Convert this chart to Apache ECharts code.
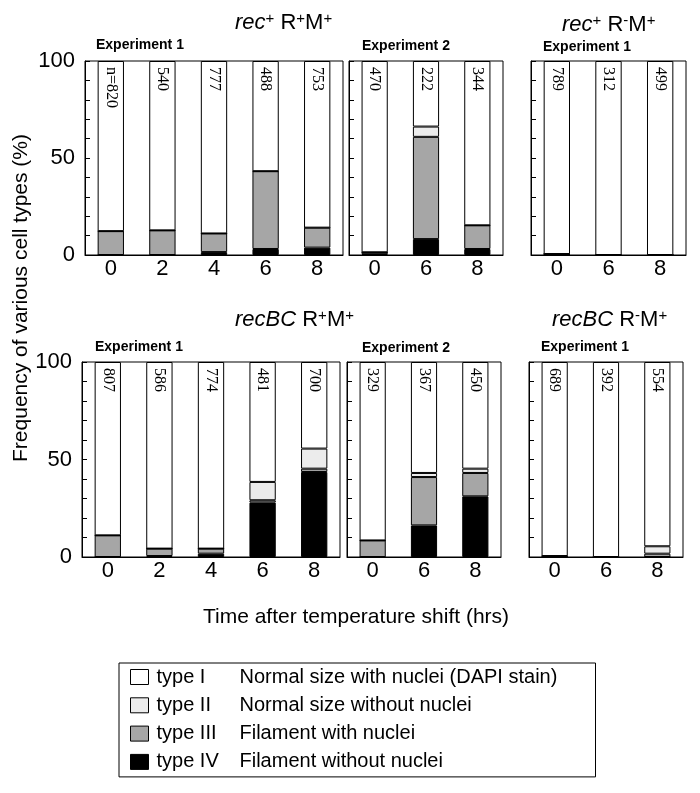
<!DOCTYPE html>
<html><head><meta charset="utf-8">
<script src="https://cdn.jsdelivr.net/npm/echarts@6/dist/echarts.min.js"></script>
<style>html,body{margin:0;padding:0;background:#fff}#c{width:700px;height:793px}</style>
</head><body><div id="c"></div>
<script>
// ---------- DATA ----------
const hoursLong = ['0', '2', '4', '6', '8'];
const hoursShort = ['0', '6', '8'];
const typeNames = ['type I', 'type II', 'type III', 'type IV'];
const typeDescriptions = ['Normal size with nuclei (DAPI stain)', 'Normal size without nuclei', 'Filament with nuclei', 'Filament without nuclei'];

// rec+ R+M+ Experiment 1
const recRM_exp1_typeIV  = [0, 0, 1.5, 3.1, 3.8];
const recRM_exp1_typeIII = [12.3, 12.7, 9.6, 40.1, 10.3];
const recRM_exp1_typeII  = [0, 0, 0, 0, 0];
const recRM_exp1_typeI   = [87.7, 87.3, 88.9, 56.8, 85.9];
const recRM_exp1_n       = [820, 540, 777, 488, 753];
// rec+ R+M+ Experiment 2
const recRM_exp2_typeIV  = [0.4, 8.2, 3.1];
const recRM_exp2_typeIII = [1.0, 52.7, 12.2];
const recRM_exp2_typeII  = [0, 5.3, 0];
const recRM_exp2_typeI   = [98.6, 33.8, 84.7];
const recRM_exp2_n       = [470, 222, 344];
// rec+ R-M+ Experiment 1
const recRminus_typeIV  = [0.5, 0, 0];
const recRminus_typeIII = [0, 0, 0];
const recRminus_typeII  = [0, 0, 0];
const recRminus_typeI   = [99.5, 100, 100];
const recRminus_n       = [789, 312, 499];
// recBC R+M+ Experiment 1
const bcRM_exp1_typeIV  = [0, 0.5, 1.7, 27.9, 43.6];
const bcRM_exp1_typeIII = [11.1, 3.8, 2.6, 1.2, 1.7];
const bcRM_exp1_typeII  = [0, 0, 0, 9.4, 10.3];
const bcRM_exp1_typeI   = [88.9, 95.7, 95.7, 61.5, 44.4];
const bcRM_exp1_n       = [807, 586, 774, 481, 700];
// recBC R+M+ Experiment 2
const bcRM_exp2_typeIV  = [0, 16.2, 31.1];
const bcRM_exp2_typeIII = [8.5, 24.8, 12.0];
const bcRM_exp2_typeII  = [0, 2.1, 2.2];
const bcRM_exp2_typeI   = [91.5, 56.9, 54.7];
const bcRM_exp2_n       = [329, 367, 450];
// recBC R-M+ Experiment 1
const bcRminus_typeIV  = [0, 0, 0];
const bcRminus_typeIII = [0.5, 0, 1.7];
const bcRminus_typeII  = [0, 0, 3.8];
const bcRminus_typeI   = [99.5, 100, 94.5];
const bcRminus_n       = [689, 392, 554];

const yTickLabels = [0, 50, 100];

// ---------- LAYOUT ----------
const FONT = '"Liberation Sans", Arial, Helvetica, sans-serif';
const SERIF = '"Liberation Serif", "Times New Roman", serif';
const typeColors = {'type I': '#ffffff', 'type II': '#ececec', 'type III': '#a6a6a6', 'type IV': '#000000'};

const panels = [
  {cats: hoursLong,  I: recRM_exp1_typeI, II: recRM_exp1_typeII, III: recRM_exp1_typeIII, IV: recRM_exp1_typeIV, n: recRM_exp1_n, prefix: true,  yLabels: true,  grid: {left: 85,  top: 61, width: 258, height: 194}},
  {cats: hoursShort, I: recRM_exp2_typeI, II: recRM_exp2_typeII, III: recRM_exp2_typeIII, IV: recRM_exp2_typeIV, n: recRM_exp2_n, prefix: false, yLabels: false, grid: {left: 349, top: 61, width: 154, height: 194}},
  {cats: hoursShort, I: recRminus_typeI, II: recRminus_typeII, III: recRminus_typeIII, IV: recRminus_typeIV, n: recRminus_n, prefix: false, yLabels: false, grid: {left: 531, top: 61, width: 155, height: 194}},
  {cats: hoursLong,  I: bcRM_exp1_typeI, II: bcRM_exp1_typeII, III: bcRM_exp1_typeIII, IV: bcRM_exp1_typeIV, n: bcRM_exp1_n, prefix: false, yLabels: true,  grid: {left: 82,  top: 362, width: 258, height: 195}},
  {cats: hoursShort, I: bcRM_exp2_typeI, II: bcRM_exp2_typeII, III: bcRM_exp2_typeIII, IV: bcRM_exp2_typeIV, n: bcRM_exp2_n, prefix: false, yLabels: false, grid: {left: 347, top: 362, width: 154, height: 195}},
  {cats: hoursShort, I: bcRminus_typeI, II: bcRminus_typeII, III: bcRminus_typeIII, IV: bcRminus_typeIV, n: bcRminus_n, prefix: false, yLabels: false, grid: {left: 529, top: 362, width: 154, height: 195}}
];

const grid = [], xAxis = [], yAxis = [], series = [];
panels.forEach((p, i) => {
  grid.push(Object.assign({show: true, borderColor: '#000', borderWidth: 1, backgroundColor: 'transparent'}, p.grid));
  xAxis.push({
    type: 'category', gridIndex: i, data: p.cats,
    axisLine: {lineStyle: {color: '#000', width: 1}},
    axisTick: {inside: true, length: 5, interval: 0, lineStyle: {color: '#000'}},
    axisLabel: {color: '#000', fontSize: 22, fontFamily: FONT, margin: 3, interval: 0},
    splitLine: {show: false}
  });
  yAxis.push({
    type: 'value', gridIndex: i, min: 0, max: 100, interval: 10,
    axisLine: {show: true, lineStyle: {color: '#000'}},
    axisTick: {show: true, inside: true, length: 5, lineStyle: {color: '#000'}},
    axisLabel: {show: p.yLabels, color: '#000', fontSize: 22, fontFamily: FONT, margin: 10,
      formatter: v => yTickLabels.indexOf(v) >= 0 ? String(v) : ''},
    splitLine: {show: false}
  });
  const layers = [['type IV', p.IV], ['type III', p.III], ['type II', p.II], ['type I', p.I]];
  layers.forEach(([name, data]) => {
    const s = {
      type: 'bar', name, xAxisIndex: i, yAxisIndex: i, stack: 'panel' + i, data,
      barWidth: '51%',
      itemStyle: {color: typeColors[name], borderColor: '#000', borderWidth: 1},
      emphasis: {disabled: true}, silent: true
    };
    if (name === 'type I') {
      s.label = {
        show: true, position: 'insideTop', distance: 6, rotate: -90,
        align: 'left', verticalAlign: 'middle',
        fontFamily: SERIF, fontSize: 16, color: '#000',
        formatter: prm => (p.prefix && prm.dataIndex === 0 ? 'n=' : '') + p.n[prm.dataIndex]
      };
    }
    series.push(s);
  });
});

const titleRich = {
  it: {fontStyle: 'italic', fontSize: 22, fontFamily: FONT, color: '#000', lineHeight: 24},
  r: {fontSize: 22, fontFamily: FONT, color: '#000', lineHeight: 24},
  sup: {fontSize: 15, fontFamily: FONT, color: '#000', verticalAlign: 'top', lineHeight: 15}
};
function titleText(left, top, text) {
  return {type: 'text', left, top, style: {text, rich: titleRich}};
}
function expText(left, top, text) {
  return {type: 'text', left, top, style: {text, fontSize: 14, fontWeight: 'bold', fontFamily: FONT, fill: '#000'}};
}

const graphic = [
  titleText(235, 11, '{it|rec}{sup|+}{r| R}{sup|+}{r|M}{sup|+}'),
  titleText(562, 13, '{it|rec}{sup|+}{r| R}{sup|-}{r|M}{sup|+}'),
  titleText(235, 308, '{it|recBC}{r| R}{sup|+}{r|M}{sup|+}'),
  titleText(552, 308, '{it|recBC}{r| R}{sup|-}{r|M}{sup|+}'),
  expText(96, 38, 'Experiment 1'),
  expText(362, 39, 'Experiment 2'),
  expText(543, 40, 'Experiment 1'),
  expText(95, 340, 'Experiment 1'),
  expText(362, 341, 'Experiment 2'),
  expText(541, 340, 'Experiment 1'),
  {type: 'text', x: 21, y: 298, rotation: Math.PI / 2,
    style: {text: 'Frequency of various cell types (%)', fontSize: 21, fontFamily: FONT, fill: '#000', align: 'center', verticalAlign: 'middle'}},
  {type: 'text', x: 356, y: 617,
    style: {text: 'Time after temperature shift (hrs)', fontSize: 21, fontFamily: FONT, fill: '#000', align: 'center', verticalAlign: 'middle'}}
];

const chart = echarts.init(document.getElementById('c'), null, {renderer: 'canvas'});
chart.setOption({
  animation: false,
  backgroundColor: '#fff',
  grid, xAxis, yAxis, series, graphic,
  legend: {
    data: typeNames,
    orient: 'vertical', left: 119, top: 663,
    padding: [4, 12, 5, 11],
    borderColor: '#000', borderWidth: 1,
    itemWidth: 18, itemHeight: 15, itemGap: 8.3,
    icon: 'rect', selectedMode: false,
    itemStyle: {borderColor: '#000', borderWidth: 1},
    formatter: name => '{a|' + name + '}{b|' + typeDescriptions[typeNames.indexOf(name)] + '}',
    textStyle: {
      fontFamily: FONT, fontSize: 20, color: '#000', lineHeight: 20,
      rich: {
        a: {fontFamily: FONT, fontSize: 20, width: 83, padding: [0, 0, 0, 3], lineHeight: 20, color: '#000'},
        b: {fontFamily: FONT, fontSize: 20, width: 344, lineHeight: 20, color: '#000'}
      }
    }
  }
});
</script></body></html>
